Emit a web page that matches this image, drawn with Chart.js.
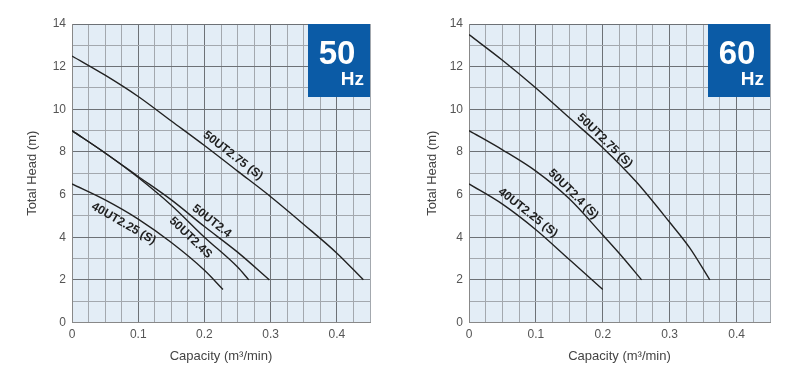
<!DOCTYPE html>
<html>
<head>
<meta charset="utf-8">
<script src="https://cdn.jsdelivr.net/npm/chart.js@4"></script>
<style>
  html, body { margin: 0; padding: 0; background: #fff; }
  .wrap { display: flex; width: 800px; height: 378px; }
  .box { position: relative; width: 400px; height: 378px; }
</style>
</head>
<body>
<div class="wrap">
  <div class="box"><canvas id="chart50"></canvas></div>
  <div class="box"><canvas id="chart60"></canvas></div>
</div>
<script>
// 50 Hz curves (capacity m3/min -> total head m)
const q50_275 = [0, 0.05, 0.1, 0.15, 0.2, 0.25, 0.3, 0.35, 0.4, 0.44];
const h50_275 = [12.5, 11.6, 10.6, 9.45, 8.3, 7.1, 5.9, 4.6, 3.25, 2.0];
const q50_24 = [0, 0.05, 0.1, 0.15, 0.2, 0.25, 0.298];
const h50_24 = [9.0, 7.95, 6.85, 5.75, 4.5, 3.3, 2.0];
const q50_24s = [0, 0.05, 0.1, 0.15, 0.2, 0.25, 0.267];
const h50_24s = [9.0, 7.95, 6.8, 5.5, 4.0, 2.6, 2.0];
const q50_225 = [0, 0.05, 0.1, 0.15, 0.2, 0.228];
const h50_225 = [6.5, 5.75, 4.85, 3.75, 2.45, 1.55];
const names50 = ['50UT2.75 (S)', '50UT2.4', '50UT2.4S', '40UT2.25 (S)'];

// 60 Hz curves
const q60_275 = [0, 0.05, 0.1, 0.15, 0.2, 0.25, 0.3, 0.33, 0.36];
const h60_275 = [13.5, 12.3, 11.0, 9.6, 8.2, 6.6, 4.7, 3.5, 2.0];
const q60_24 = [0, 0.05, 0.1, 0.15, 0.2, 0.23, 0.258];
const h60_24 = [9.0, 8.1, 7.1, 5.8, 4.1, 3.05, 2.0];
const q60_225 = [0, 0.05, 0.1, 0.15, 0.2];
const h60_225 = [6.5, 5.55, 4.35, 2.95, 1.55];
const names60 = ['50UT2.75 (S)', '50UT2.4 (S)', '40UT2.25 (S)'];

const xTicks = [0, 0.1, 0.2, 0.3, 0.4];
const yTicks = [0, 2, 4, 6, 8, 10, 12, 14];

const FONT = '"Liberation Sans", Arial, sans-serif';

function pts(qs, hs) {
    return qs.map((q, i) => ({x: q, y: hs[i]}));
}

function headAt(qs, hs, q) {
    for (let i = 1; i < qs.length; i++) {
        if (q <= qs[i]) {
            const t = (q - qs[i - 1]) / (qs[i] - qs[i - 1]);
            return hs[i - 1] + t * (hs[i] - hs[i - 1]);
        }
    }
    return hs[hs.length - 1];
}

const isMajorX = v => Math.abs(v * 10 - Math.round(v * 10)) < 1e-6;
const isMajorY = v => Math.abs(v % 2) < 1e-6;

const plotBg = {
    id: 'plotBg',
    beforeDraw(chart) {
        const a = chart.chartArea, ctx = chart.ctx;
        ctx.save();
        ctx.fillStyle = '#e3edf6';
        ctx.fillRect(a.left, a.top, a.right - a.left, a.bottom - a.top);
        ctx.restore();
    }
};

// curve names written along the lines, plus the Hz badge
const extras = {
    id: 'extras',
    afterDatasetsDraw(chart, args, opts) {
        const ctx = chart.ctx, xs = chart.scales.x, ys = chart.scales.y;
        ctx.save();
        ctx.fillStyle = '#1e1e1e';
        ctx.font = 'bold 12px ' + FONT;
        ctx.textAlign = 'center';
        ctx.textBaseline = 'middle';
        opts.labels.forEach(l => {
            const s = opts.series[l.idx];
            const px = xs.getPixelForValue(l.at);
            const py = ys.getPixelForValue(headAt(s.q, s.h, l.at));
            const pa = ys.getPixelForValue(headAt(s.q, s.h, l.at - 0.02));
            const pb = ys.getPixelForValue(headAt(s.q, s.h, l.at + 0.02));
            const ang = Math.atan2(pb - pa, xs.getPixelForValue(l.at + 0.02) - xs.getPixelForValue(l.at - 0.02));
            ctx.save();
            ctx.translate(px, py + l.dy);
            ctx.rotate(ang);
            ctx.fillText(l.text, 0, 0);
            ctx.restore();
        });

        const a = chart.chartArea;
        const w = 62, h = 73;
        ctx.fillStyle = '#0b5ba6';
        ctx.fillRect(a.right - w, a.top, w, h);
        ctx.fillStyle = '#ffffff';
        ctx.textBaseline = 'alphabetic';
        ctx.font = 'bold 33px ' + FONT;
        ctx.textAlign = 'center';
        ctx.fillText(opts.hz, a.right - 33, a.top + 40);
        ctx.font = 'bold 19px ' + FONT;
        ctx.textAlign = 'right';
        ctx.fillText('Hz', a.right - 6, a.top + 61);
        ctx.restore();
    }
};

function makeChart(id, series, names, labels, hz, yWidth) {
    const datasets = series.map((s, i) => ({
        label: names[i],
        data: pts(s.q, s.h),
        borderColor: '#222',
        borderWidth: 1.4,
        pointRadius: 0,
        fill: false,
        cubicInterpolationMode: 'monotone'
    }));
    return new Chart(document.getElementById(id), {
        type: 'line',
        data: {datasets},
        options: {
            responsive: false,
            animation: false,
            layout: {padding: {top: 24, right: 30, left: 0, bottom: 0}},
            plugins: {
                legend: {display: false},
                tooltip: {enabled: false},
                extras: {series, labels, hz}
            },
            scales: {
                x: {
                    type: 'linear', min: 0, max: 0.45,
                    afterFit: sc => { sc.height = 55.5; },
                    ticks: {
                        stepSize: 0.025, autoSkip: false, maxRotation: 0,
                        color: '#555', font: {family: FONT, size: 12}, padding: 5,
                        callback: v => xTicks.some(t => Math.abs(t - v) < 1e-6) ? String(+v.toFixed(1)) : ''
                    },
                    grid: {
                        drawTicks: false,
                        color: c => isMajorX(c.tick.value) ? '#6d7176' : '#a3a8ae',
                        lineWidth: 1
                    },
                    border: {color: '#888'},
                    title: {
                        display: true, text: 'Capacity (m³/min)', color: '#444',
                        font: {family: FONT, size: 13}, padding: {top: 0, bottom: 14}
                    }
                },
                y: {
                    type: 'linear', min: 0, max: 14,
                    afterFit: sc => { sc.width = yWidth; },
                    ticks: {
                        stepSize: 1, autoSkip: false,
                        color: '#555', font: {family: FONT, size: 12}, padding: 6,
                        callback: v => yTicks.includes(v) ? String(v) : ''
                    },
                    grid: {
                        drawTicks: false,
                        color: c => isMajorY(c.tick.value) ? '#6d7176' : '#a3a8ae',
                        lineWidth: 1
                    },
                    border: {color: '#888'},
                    title: {
                        display: true, text: 'Total Head (m)', color: '#444',
                        font: {family: FONT, size: 13}, padding: {top: 25, bottom: 0}
                    }
                }
            }
        },
        plugins: [plotBg, extras]
    });
}

document.getElementById('chart50').width = 400;
document.getElementById('chart50').height = 378;
document.getElementById('chart60').width = 400;
document.getElementById('chart60').height = 378;

makeChart('chart50',
    [{q: q50_275, h: h50_275}, {q: q50_24, h: h50_24}, {q: q50_24s, h: h50_24s}, {q: q50_225, h: h50_225}],
    names50,
    [
        {idx: 0, text: names50[0], at: 0.243, dy: -12},
        {idx: 1, text: names50[1], at: 0.211, dy: -11},
        {idx: 2, text: names50[2], at: 0.179, dy: 14},
        {idx: 3, text: names50[3], at: 0.078, dy: 13}
    ],
    '50', 72);

makeChart('chart60',
    [{q: q60_275, h: h60_275}, {q: q60_24, h: h60_24}, {q: q60_225, h: h60_225}],
    names60,
    [
        {idx: 0, text: names60[0], at: 0.203, dy: -9},
        {idx: 1, text: names60[1], at: 0.156, dy: -9},
        {idx: 2, text: names60[2], at: 0.088, dy: -11}
    ],
    '60', 69);
</script>
</body>
</html>
